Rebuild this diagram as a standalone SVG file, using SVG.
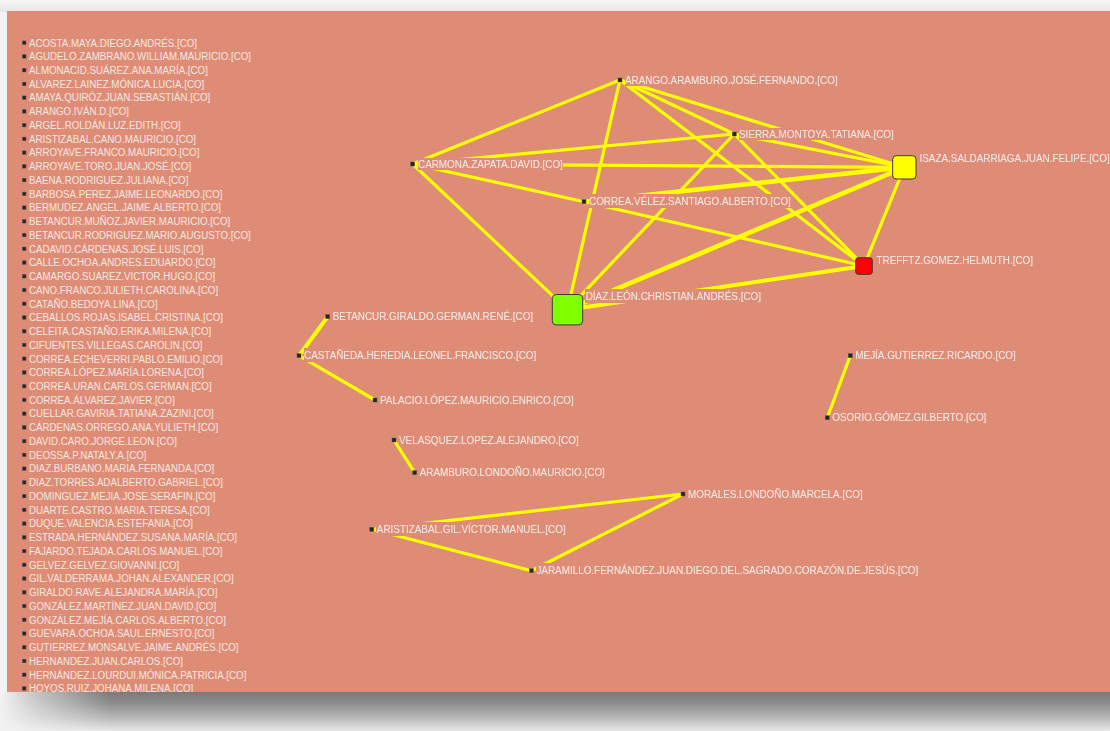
<svg xmlns="http://www.w3.org/2000/svg" width="1110" height="731" viewBox="0 0 1110 731">
<defs>
<linearGradient id="topg" x1="0" y1="0" x2="0" y2="1">
<stop offset="0" stop-color="#f7f7f7"/><stop offset="1" stop-color="#e6e6e6"/>
</linearGradient>
<linearGradient id="shad" x1="0" y1="0" x2="0" y2="1">
<stop offset="0" stop-color="#7a7a7a"/><stop offset="0.25" stop-color="#8a8a8a"/><stop offset="0.45" stop-color="#a0a0a0"/><stop offset="0.65" stop-color="#b6b6b6"/><stop offset="0.82" stop-color="#cfcfcf"/><stop offset="1" stop-color="#e8e8e8"/>
</linearGradient>
<linearGradient id="fade" x1="0" y1="0" x2="1" y2="0">
<stop offset="0" stop-color="#f2f2f2" stop-opacity="1"/><stop offset="0.35" stop-color="#f2f2f2" stop-opacity="0.6"/><stop offset="1" stop-color="#f2f2f2" stop-opacity="0"/>
</linearGradient>
<filter id="bg" x="0" y="0" width="1" height="1">
<feFlood flood-color="#DF8C76"/>
<feComposite in="SourceGraphic" operator="over"/>
</filter>
<style>
text{font-family:"Liberation Sans",Arial,sans-serif;font-size:11px;fill:#F6E7E1;transform-box:fill-box;transform-origin:0 50%;transform:scaleX(0.9);}
.lst text{transform:scaleX(0.885);}
.lb{filter:url(#bg);}
.b{fill:#242424;stroke:#555;stroke-width:0.5;}
.e{stroke:#FFFF00;stroke-width:3.2;stroke-linecap:round;fill:none;}
.t{stroke-width:4.6;}
.m{stroke-width:4;}
.big{stroke:#3a3a3a;stroke-width:1;}
</style>
</defs>

<rect x="0" y="0" width="1110" height="731" fill="#f3f3f3"/>
<rect x="0" y="0" width="1110" height="12" fill="url(#topg)"/>
<rect x="7" y="11" width="1103" height="681" fill="#DF8C76"/>

<g id="list" class="lst">
<g id="n01" transform="translate(0,42.7)"><rect class="b" x="22.5" y="-1.75" width="3.5" height="3.5"/><text x="29" y="3.8">ACOSTA.MAYA.DIEGO.ANDRÉS.[CO]</text></g>
<g id="n02" transform="translate(0,56.44)"><rect class="b" x="22.5" y="-1.75" width="3.5" height="3.5"/><text x="29" y="3.8">AGUDELO.ZAMBRANO.WILLIAM.MAURICIO.[CO]</text></g>
<g id="n03" transform="translate(0,70.18)"><rect class="b" x="22.5" y="-1.75" width="3.5" height="3.5"/><text x="29" y="3.8">ALMONACID.SUÁREZ.ANA.MARÍA.[CO]</text></g>
<g id="n04" transform="translate(0,83.92)"><rect class="b" x="22.5" y="-1.75" width="3.5" height="3.5"/><text x="29" y="3.8">ALVAREZ.LAINEZ.MÓNICA.LUCIA.[CO]</text></g>
<g id="n05" transform="translate(0,97.66)"><rect class="b" x="22.5" y="-1.75" width="3.5" height="3.5"/><text x="29" y="3.8">AMAYA.QUIRÓZ.JUAN.SEBASTIÁN.[CO]</text></g>
<g id="n06" transform="translate(0,111.4)"><rect class="b" x="22.5" y="-1.75" width="3.5" height="3.5"/><text x="29" y="3.8">ARANGO.IVÁN.D.[CO]</text></g>
<g id="n07" transform="translate(0,125.14)"><rect class="b" x="22.5" y="-1.75" width="3.5" height="3.5"/><text x="29" y="3.8">ARGEL.ROLDÁN.LUZ.EDITH.[CO]</text></g>
<g id="n08" transform="translate(0,138.88)"><rect class="b" x="22.5" y="-1.75" width="3.5" height="3.5"/><text x="29" y="3.8">ARISTIZABAL.CANO.MAURICIO.[CO]</text></g>
<g id="n09" transform="translate(0,152.62)"><rect class="b" x="22.5" y="-1.75" width="3.5" height="3.5"/><text x="29" y="3.8">ARROYAVE.FRANCO.MAURICIO.[CO]</text></g>
<g id="n10" transform="translate(0,166.36)"><rect class="b" x="22.5" y="-1.75" width="3.5" height="3.5"/><text x="29" y="3.8">ARROYAVE.TORO.JUAN.JOSÉ.[CO]</text></g>
<g id="n11" transform="translate(0,180.1)"><rect class="b" x="22.5" y="-1.75" width="3.5" height="3.5"/><text x="29" y="3.8">BAENA.RODRIGUEZ.JULIANA.[CO]</text></g>
<g id="n12" transform="translate(0,193.84)"><rect class="b" x="22.5" y="-1.75" width="3.5" height="3.5"/><text x="29" y="3.8">BARBOSA.PEREZ.JAIME.LEONARDO.[CO]</text></g>
<g id="n13" transform="translate(0,207.58)"><rect class="b" x="22.5" y="-1.75" width="3.5" height="3.5"/><text x="29" y="3.8">BERMUDEZ.ANGEL.JAIME.ALBERTO.[CO]</text></g>
<g id="n14" transform="translate(0,221.32)"><rect class="b" x="22.5" y="-1.75" width="3.5" height="3.5"/><text x="29" y="3.8">BETANCUR.MUÑOZ.JAVIER.MAURICIO.[CO]</text></g>
<g id="n15" transform="translate(0,235.06)"><rect class="b" x="22.5" y="-1.75" width="3.5" height="3.5"/><text x="29" y="3.8">BETANCUR.RODRIGUEZ.MARIO.AUGUSTO.[CO]</text></g>
<g id="n16" transform="translate(0,248.8)"><rect class="b" x="22.5" y="-1.75" width="3.5" height="3.5"/><text x="29" y="3.8">CADAVID.CÁRDENAS.JOSÉ.LUIS.[CO]</text></g>
<g id="n17" transform="translate(0,262.54)"><rect class="b" x="22.5" y="-1.75" width="3.5" height="3.5"/><text x="29" y="3.8">CALLE.OCHOA.ANDRES.EDUARDO.[CO]</text></g>
<g id="n18" transform="translate(0,276.28)"><rect class="b" x="22.5" y="-1.75" width="3.5" height="3.5"/><text x="29" y="3.8">CAMARGO.SUAREZ.VICTOR.HUGO.[CO]</text></g>
<g id="n19" transform="translate(0,290.02)"><rect class="b" x="22.5" y="-1.75" width="3.5" height="3.5"/><text x="29" y="3.8">CANO.FRANCO.JULIETH.CAROLINA.[CO]</text></g>
<g id="n20" transform="translate(0,303.76)"><rect class="b" x="22.5" y="-1.75" width="3.5" height="3.5"/><text x="29" y="3.8">CATAÑO.BEDOYA.LINA.[CO]</text></g>
<g id="n21" transform="translate(0,317.5)"><rect class="b" x="22.5" y="-1.75" width="3.5" height="3.5"/><text x="29" y="3.8">CEBALLOS.ROJAS.ISABEL.CRISTINA.[CO]</text></g>
<g id="n22" transform="translate(0,331.24)"><rect class="b" x="22.5" y="-1.75" width="3.5" height="3.5"/><text x="29" y="3.8">CELEITA.CASTAÑO.ERIKA.MILENA.[CO]</text></g>
<g id="n23" transform="translate(0,344.98)"><rect class="b" x="22.5" y="-1.75" width="3.5" height="3.5"/><text x="29" y="3.8">CIFUENTES.VILLEGAS.CAROLIN.[CO]</text></g>
<g id="n24" transform="translate(0,358.72)"><rect class="b" x="22.5" y="-1.75" width="3.5" height="3.5"/><text x="29" y="3.8">CORREA.ECHEVERRI.PABLO.EMILIO.[CO]</text></g>
<g id="n25" transform="translate(0,372.46)"><rect class="b" x="22.5" y="-1.75" width="3.5" height="3.5"/><text x="29" y="3.8">CORREA.LÓPEZ.MARÍA.LORENA.[CO]</text></g>
<g id="n26" transform="translate(0,386.2)"><rect class="b" x="22.5" y="-1.75" width="3.5" height="3.5"/><text x="29" y="3.8">CORREA.URAN.CARLOS.GERMAN.[CO]</text></g>
<g id="n27" transform="translate(0,399.94)"><rect class="b" x="22.5" y="-1.75" width="3.5" height="3.5"/><text x="29" y="3.8">CORREA.ÁLVAREZ.JAVIER.[CO]</text></g>
<g id="n28" transform="translate(0,413.68)"><rect class="b" x="22.5" y="-1.75" width="3.5" height="3.5"/><text x="29" y="3.8">CUELLAR.GAVIRIA.TATIANA.ZAZINI.[CO]</text></g>
<g id="n29" transform="translate(0,427.42)"><rect class="b" x="22.5" y="-1.75" width="3.5" height="3.5"/><text x="29" y="3.8">CÁRDENAS.ORREGO.ANA.YULIETH.[CO]</text></g>
<g id="n30" transform="translate(0,441.16)"><rect class="b" x="22.5" y="-1.75" width="3.5" height="3.5"/><text x="29" y="3.8">DAVID.CARO.JORGE.LEON.[CO]</text></g>
<g id="n31" transform="translate(0,454.9)"><rect class="b" x="22.5" y="-1.75" width="3.5" height="3.5"/><text x="29" y="3.8">DEOSSA.P.NATALY.A.[CO]</text></g>
<g id="n32" transform="translate(0,468.64)"><rect class="b" x="22.5" y="-1.75" width="3.5" height="3.5"/><text x="29" y="3.8">DIAZ.BURBANO.MARIA.FERNANDA.[CO]</text></g>
<g id="n33" transform="translate(0,482.38)"><rect class="b" x="22.5" y="-1.75" width="3.5" height="3.5"/><text x="29" y="3.8">DIAZ.TORRES.ADALBERTO.GABRIEL.[CO]</text></g>
<g id="n34" transform="translate(0,496.12)"><rect class="b" x="22.5" y="-1.75" width="3.5" height="3.5"/><text x="29" y="3.8">DOMINGUEZ.MEJIA.JOSE.SERAFIN.[CO]</text></g>
<g id="n35" transform="translate(0,509.86)"><rect class="b" x="22.5" y="-1.75" width="3.5" height="3.5"/><text x="29" y="3.8">DUARTE.CASTRO.MARIA.TERESA.[CO]</text></g>
<g id="n36" transform="translate(0,523.6)"><rect class="b" x="22.5" y="-1.75" width="3.5" height="3.5"/><text x="29" y="3.8">DUQUE.VALENCIA.ESTEFANIA.[CO]</text></g>
<g id="n37" transform="translate(0,537.34)"><rect class="b" x="22.5" y="-1.75" width="3.5" height="3.5"/><text x="29" y="3.8">ESTRADA.HERNÁNDEZ.SUSANA.MARÍA.[CO]</text></g>
<g id="n38" transform="translate(0,551.08)"><rect class="b" x="22.5" y="-1.75" width="3.5" height="3.5"/><text x="29" y="3.8">FAJARDO.TEJADA.CARLOS.MANUEL.[CO]</text></g>
<g id="n39" transform="translate(0,564.82)"><rect class="b" x="22.5" y="-1.75" width="3.5" height="3.5"/><text x="29" y="3.8">GELVEZ.GELVEZ.GIOVANNI.[CO]</text></g>
<g id="n40" transform="translate(0,578.56)"><rect class="b" x="22.5" y="-1.75" width="3.5" height="3.5"/><text x="29" y="3.8">GIL.VALDERRAMA.JOHAN.ALEXANDER.[CO]</text></g>
<g id="n41" transform="translate(0,592.3)"><rect class="b" x="22.5" y="-1.75" width="3.5" height="3.5"/><text x="29" y="3.8">GIRALDO.RAVE.ALEJANDRA.MARÍA.[CO]</text></g>
<g id="n42" transform="translate(0,606.04)"><rect class="b" x="22.5" y="-1.75" width="3.5" height="3.5"/><text x="29" y="3.8">GONZÁLEZ.MARTÍNEZ.JUAN.DAVID.[CO]</text></g>
<g id="n43" transform="translate(0,619.78)"><rect class="b" x="22.5" y="-1.75" width="3.5" height="3.5"/><text x="29" y="3.8">GONZÁLEZ.MEJÍA.CARLOS.ALBERTO.[CO]</text></g>
<g id="n44" transform="translate(0,633.52)"><rect class="b" x="22.5" y="-1.75" width="3.5" height="3.5"/><text x="29" y="3.8">GUEVARA.OCHOA.SAUL.ERNESTO.[CO]</text></g>
<g id="n45" transform="translate(0,647.26)"><rect class="b" x="22.5" y="-1.75" width="3.5" height="3.5"/><text x="29" y="3.8">GUTIERREZ.MONSALVE.JAIME.ANDRÉS.[CO]</text></g>
<g id="n46" transform="translate(0,661)"><rect class="b" x="22.5" y="-1.75" width="3.5" height="3.5"/><text x="29" y="3.8">HERNANDEZ.JUAN.CARLOS.[CO]</text></g>
<g id="n47" transform="translate(0,674.74)"><rect class="b" x="22.5" y="-1.75" width="3.5" height="3.5"/><text x="29" y="3.8">HERNÁNDEZ.LOURDUI.MÓNICA.PATRICIA.[CO]</text></g>
<g id="n48" transform="translate(0,688.48)"><rect class="b" x="22.5" y="-1.75" width="3.5" height="3.5"/><text x="29" y="3.8">HOYOS.RUIZ.JOHANA.MILENA.[CO]</text></g>
</g>

<g id="edges">
<line class="e" x1="620" y1="80" x2="412.7" y2="164"/>
<line class="e" x1="620" y1="80" x2="567.5" y2="309.7"/>
<line class="e" x1="620" y1="80" x2="734.3" y2="134"/>
<line class="e" x1="620" y1="80" x2="904.3" y2="167.3"/>
<line class="e" x1="620" y1="80" x2="864" y2="266"/>
<line class="e" x1="734.3" y1="134" x2="412.7" y2="164"/>
<line class="e" x1="734.3" y1="134" x2="904.3" y2="167.3"/>
<line class="e" x1="734.3" y1="134" x2="864" y2="266"/>
<line class="e" x1="734.3" y1="134" x2="567.5" y2="309.7"/>
<line class="e" x1="412.7" y1="164" x2="904.3" y2="167.3"/>
<line class="e" x1="412.7" y1="164" x2="584" y2="201.7"/>
<line class="e" x1="412.7" y1="164" x2="567.5" y2="309.7"/>
<line class="e t" x1="584" y1="201.7" x2="904.3" y2="167.3"/>
<line class="e" x1="864" y1="266" x2="904.3" y2="167.3"/>
<line class="e t" x1="567.5" y1="309.7" x2="904.3" y2="167.3"/>
<line class="e" x1="584" y1="201.7" x2="864" y2="266"/>
<line class="e m" x1="567.5" y1="309.7" x2="864" y2="266"/>
<line class="e m" x1="327.7" y1="316.7" x2="299" y2="355.7"/>
<line class="e" x1="299" y1="355.7" x2="375" y2="400"/>
<line class="e" x1="394" y1="440" x2="414.7" y2="472.7"/>
<line class="e" x1="683" y1="494" x2="371.8" y2="529.3"/>
<line class="e" x1="683" y1="494" x2="531.4" y2="570.7"/>
<line class="e" x1="371.8" y1="529.3" x2="531.4" y2="570.7"/>
<line class="e" x1="850.3" y1="355.7" x2="827.3" y2="417.7"/>
</g>

<g id="arango"><rect class="b" x="618" y="78" width="4" height="4"/><text class="lb" x="625" y="83.8">ARANGO.ARAMBURO.JOSÉ.FERNANDO.[CO]</text></g>
<g id="sierra"><rect class="b" x="732.3" y="132" width="4" height="4"/><text class="lb" x="739" y="137.8">SIERRA.MONTOYA.TATIANA.[CO]</text></g>
<g id="carmona"><rect class="b" x="410.7" y="162" width="4" height="4"/><text class="lb" x="418" y="167.8">CARMONA.ZAPATA.DAVID.[CO]</text></g>
<g id="isaza"><rect class="big" x="892.7" y="155.7" width="23.3" height="23.3" rx="3.5" fill="#FFFF00"/><text class="lb" x="919.5" y="161.8">ISAZA.SALDARRIAGA.JUAN.FELIPE.[CO]</text></g>
<g id="correa"><rect class="b" x="582" y="199.7" width="4" height="4"/><text class="lb" x="589" y="205.5">CORREA.VÉLEZ.SANTIAGO.ALBERTO.[CO]</text></g>
<g id="trefftz"><rect class="big" x="855.7" y="257.7" width="16.6" height="16.6" rx="2.5" fill="#FF0000"/><text class="lb" x="876.5" y="263.8">TREFFTZ.GOMEZ.HELMUTH.[CO]</text></g>
<g id="diaz"><rect class="big" x="552.3" y="294.5" width="30.4" height="30.4" rx="4" fill="#80FF00"/><text class="lb" x="585.7" y="300.5">DÍAZ.LEÓN.CHRISTIAN.ANDRÉS.[CO]</text></g>
<g id="betancur"><rect class="b" x="325.7" y="314.7" width="4" height="4"/><text class="lb" x="332.7" y="320.5">BETANCUR.GIRALDO.GERMAN.RENÉ.[CO]</text></g>
<g id="castaneda"><rect class="b" x="297" y="353.7" width="4" height="4"/><text class="lb" x="304" y="359.5">CASTAÑEDA.HEREDIA.LEONEL.FRANCISCO.[CO]</text></g>
<g id="palacio"><rect class="b" x="373" y="398" width="4" height="4"/><text class="lb" x="380" y="403.8">PALACIO.LÓPEZ.MAURICIO.ENRICO.[CO]</text></g>
<g id="velasquez"><rect class="b" x="392" y="438" width="4" height="4"/><text class="lb" x="399" y="443.8">VELASQUEZ.LOPEZ.ALEJANDRO.[CO]</text></g>
<g id="aramburo"><rect class="b" x="412.7" y="470.7" width="4" height="4"/><text class="lb" x="419.7" y="476.5">ARAMBURO.LONDOÑO.MAURICIO.[CO]</text></g>
<g id="morales"><rect class="b" x="681" y="492" width="4" height="4"/><text class="lb" x="688" y="497.8">MORALES.LONDOÑO.MARCELA.[CO]</text></g>
<g id="aristizabal"><rect class="b" x="369.8" y="527.3" width="4" height="4"/><text class="lb" x="376.8" y="533.1">ARISTIZABAL.GIL.VÍCTOR.MANUEL.[CO]</text></g>
<g id="jaramillo"><rect class="b" x="529.4" y="568.7" width="4" height="4"/><text class="lb" x="536.4" y="574.5">JARAMILLO.FERNÁNDEZ.JUAN.DIEGO.DEL.SAGRADO.CORAZÓN.DE.JESÚS.[CO]</text></g>
<g id="mejia"><rect class="b" x="848.3" y="353.7" width="4" height="4"/><text class="lb" x="855.3" y="359.5">MEJÍA.GUTIERREZ.RICARDO.[CO]</text></g>
<g id="osorio"><rect class="b" x="825.3" y="415.7" width="4" height="4"/><text class="lb" x="832.3" y="421.5">OSORIO.GÓMEZ.GILBERTO.[CO]</text></g>

<rect x="0" y="692" width="1110" height="39" fill="url(#shad)"/>
<rect x="0" y="692" width="110" height="39" fill="url(#fade)"/>
</svg>
